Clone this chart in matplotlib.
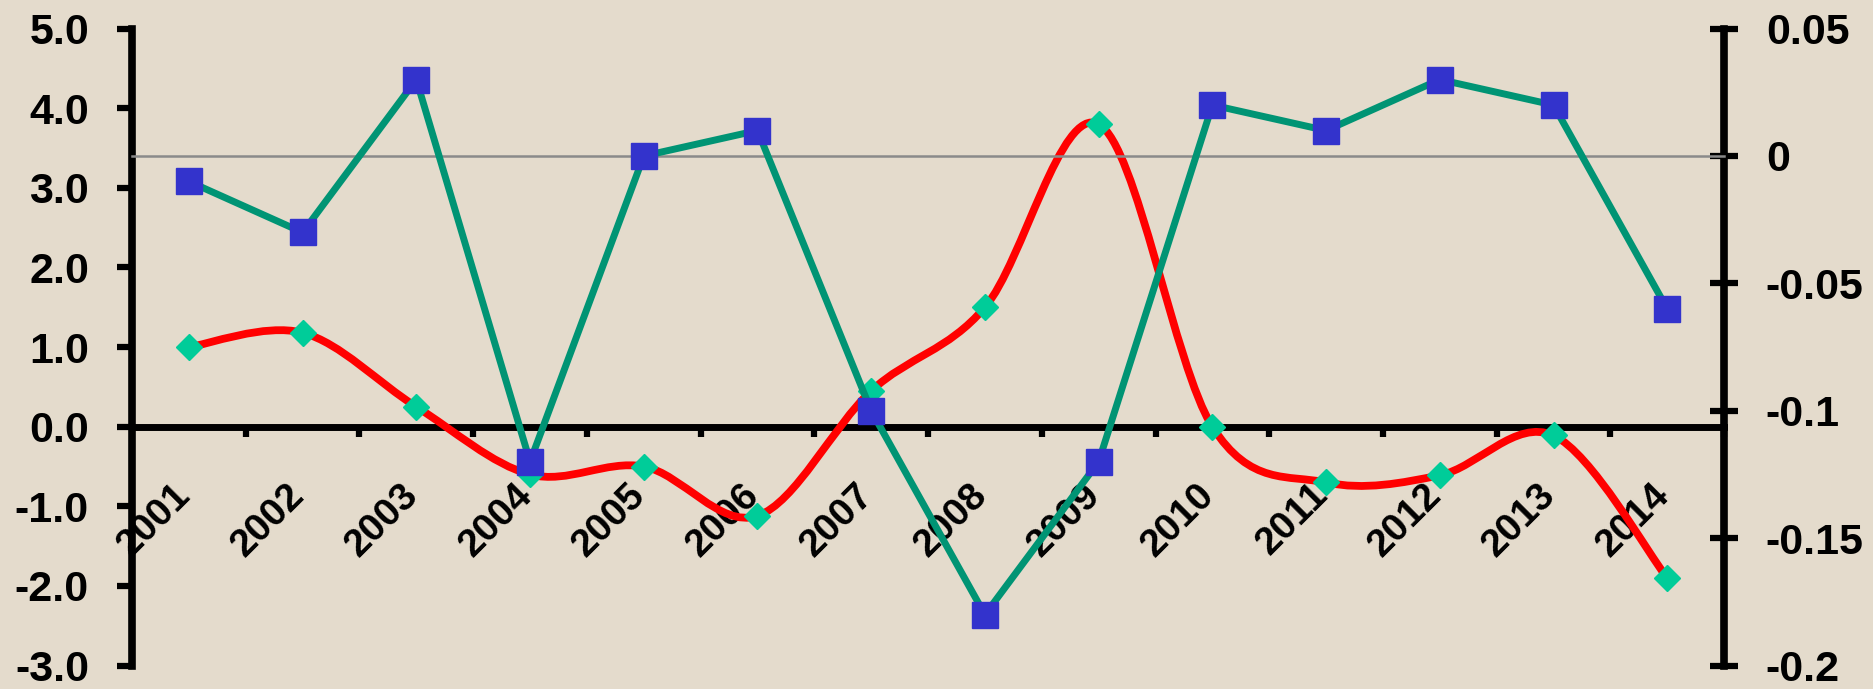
import matplotlib
matplotlib.use("Agg")
import matplotlib.pyplot as plt
from matplotlib.path import Path
from matplotlib.patches import PathPatch
import numpy as np

# ---- data ----
years = ["2001", "2002", "2003", "2004", "2005", "2006", "2007",
         "2008", "2009", "2010", "2011", "2012", "2013", "2014"]
red_values = [1.0, 1.18, 0.25, -0.6, -0.5, -1.12, 0.45,
              1.5, 3.8, 0.0, -0.7, -0.61, -0.11, -1.9]
blue_values = [-0.01, -0.03, 0.03, -0.12, 0.0, 0.01, -0.10,
               -0.18, -0.12, 0.02, 0.01, 0.03, 0.02, -0.06]
left_ticks = [-3.0, -2.0, -1.0, 0.0, 1.0, 2.0, 3.0, 4.0, 5.0]
right_ticks = [-0.2, -0.15, -0.1, -0.05, 0.0, 0.05]
right_labels = ["-0.2", "-0.15", "-0.1", "-0.05", "0", "0.05"]

plt.rcParams['axes.unicode_minus'] = False
plt.rcParams['font.family'] = ['Liberation Sans', 'DejaVu Sans']
plt.rcParams['font.weight'] = 'bold'

BG = '#E4DBCC'
fig = plt.figure(figsize=(18.73, 6.89), dpi=100, facecolor=BG)
ax1 = fig.add_axes([0.0705, 0.034, 0.850, 0.9245])
ax1.set_facecolor(BG)
ax2 = ax1.twinx()

n = len(years)
x = np.arange(n) + 0.5

# ---- smoothed red line (Excel-like Catmull-Rom bezier) ----
px = np.concatenate([[x[0]], x, [x[-1]]])
py = np.concatenate([[red_values[0]], red_values, [red_values[-1]]])
verts = [(x[0], red_values[0])]
codes = [Path.MOVETO]
for i in range(1, n):
    p0 = np.array([px[i - 1], py[i - 1]])
    p1 = np.array([px[i], py[i]])
    p2 = np.array([px[i + 1], py[i + 1]])
    p3 = np.array([px[i + 2], py[i + 2]])
    c1 = p1 + (p2 - p0) / 6.0
    c2 = p2 - (p3 - p1) / 6.0
    verts += [tuple(c1), tuple(c2), tuple(p2)]
    codes += [Path.CURVE4] * 3
ax1.add_patch(PathPatch(Path(verts, codes), facecolor='none',
                        edgecolor='#FF0000', lw=5.6, zorder=3,
                        capstyle='round', joinstyle='round'))
ax1.plot(x, red_values, linestyle='none', marker='D', ms=12.8,
         color='#00CC99', mec='#00CC99', zorder=4)

# ---- secondary series ----
ax2.plot(x, blue_values, color='#009474', lw=5.0, marker='s', ms=18.5,
         mfc='#3333CC', mec='#3333CC', zorder=5, solid_joinstyle='round')

# ---- axes limits ----
ax1.set_xlim(0, n)
ax1.set_ylim(-3, 5)
ax2.set_ylim(-0.2, 0.05)

# primary axis styling
for s in ['top', 'right']:
    ax1.spines[s].set_visible(False)
ax1.spines['left'].set_linewidth(5.5)
ax1.spines['bottom'].set_position(('data', 0))
ax1.spines['bottom'].set_linewidth(5.0)
ax1.spines['bottom'].set_zorder(2)
ax1.set_yticks(left_ticks)
ax1.set_yticklabels([f"{v:.1f}" for v in left_ticks])
ax1.tick_params(axis='y', direction='out', length=11, width=4.5,
                pad=20, labelsize=31)
ax1.set_xticks(np.arange(1, n))
ax1.set_xticklabels([])
ax1.tick_params(axis='x', which='major', direction='out', length=7,
                width=4.5)
ax1.set_xticks(x + 0.08, minor=True)
ax1.set_xticklabels(years, minor=True)
ax1.tick_params(axis='x', which='minor', length=0, pad=36,
                labelsize=28, labelrotation=45)
for lab in ax1.get_xticklabels(minor=True):
    lab.set_ha('right')
    lab.set_va('top')

# secondary axis styling
for s in ['top', 'left']:
    ax2.spines[s].set_visible(False)
ax2.spines['right'].set_linewidth(5.5)
ax2.spines['bottom'].set_position(('data', 0))
ax2.spines['bottom'].set_color('#8A8A8A')
ax2.spines['bottom'].set_linewidth(1.8)
ax2.set_yticks(right_ticks)
ax2.set_yticklabels(right_labels)
ax2.tick_params(axis='y', direction='inout', length=20, width=4.5,
                pad=20, labelsize=31)
ax2.set_xticks(np.arange(1, n + 1))
ax2.set_xticklabels([])
ax2.tick_params(axis='x', direction='out', length=12, width=1.8,
                color='#8A8A8A')

fig.savefig('out.png', dpi=100, facecolor=BG)
